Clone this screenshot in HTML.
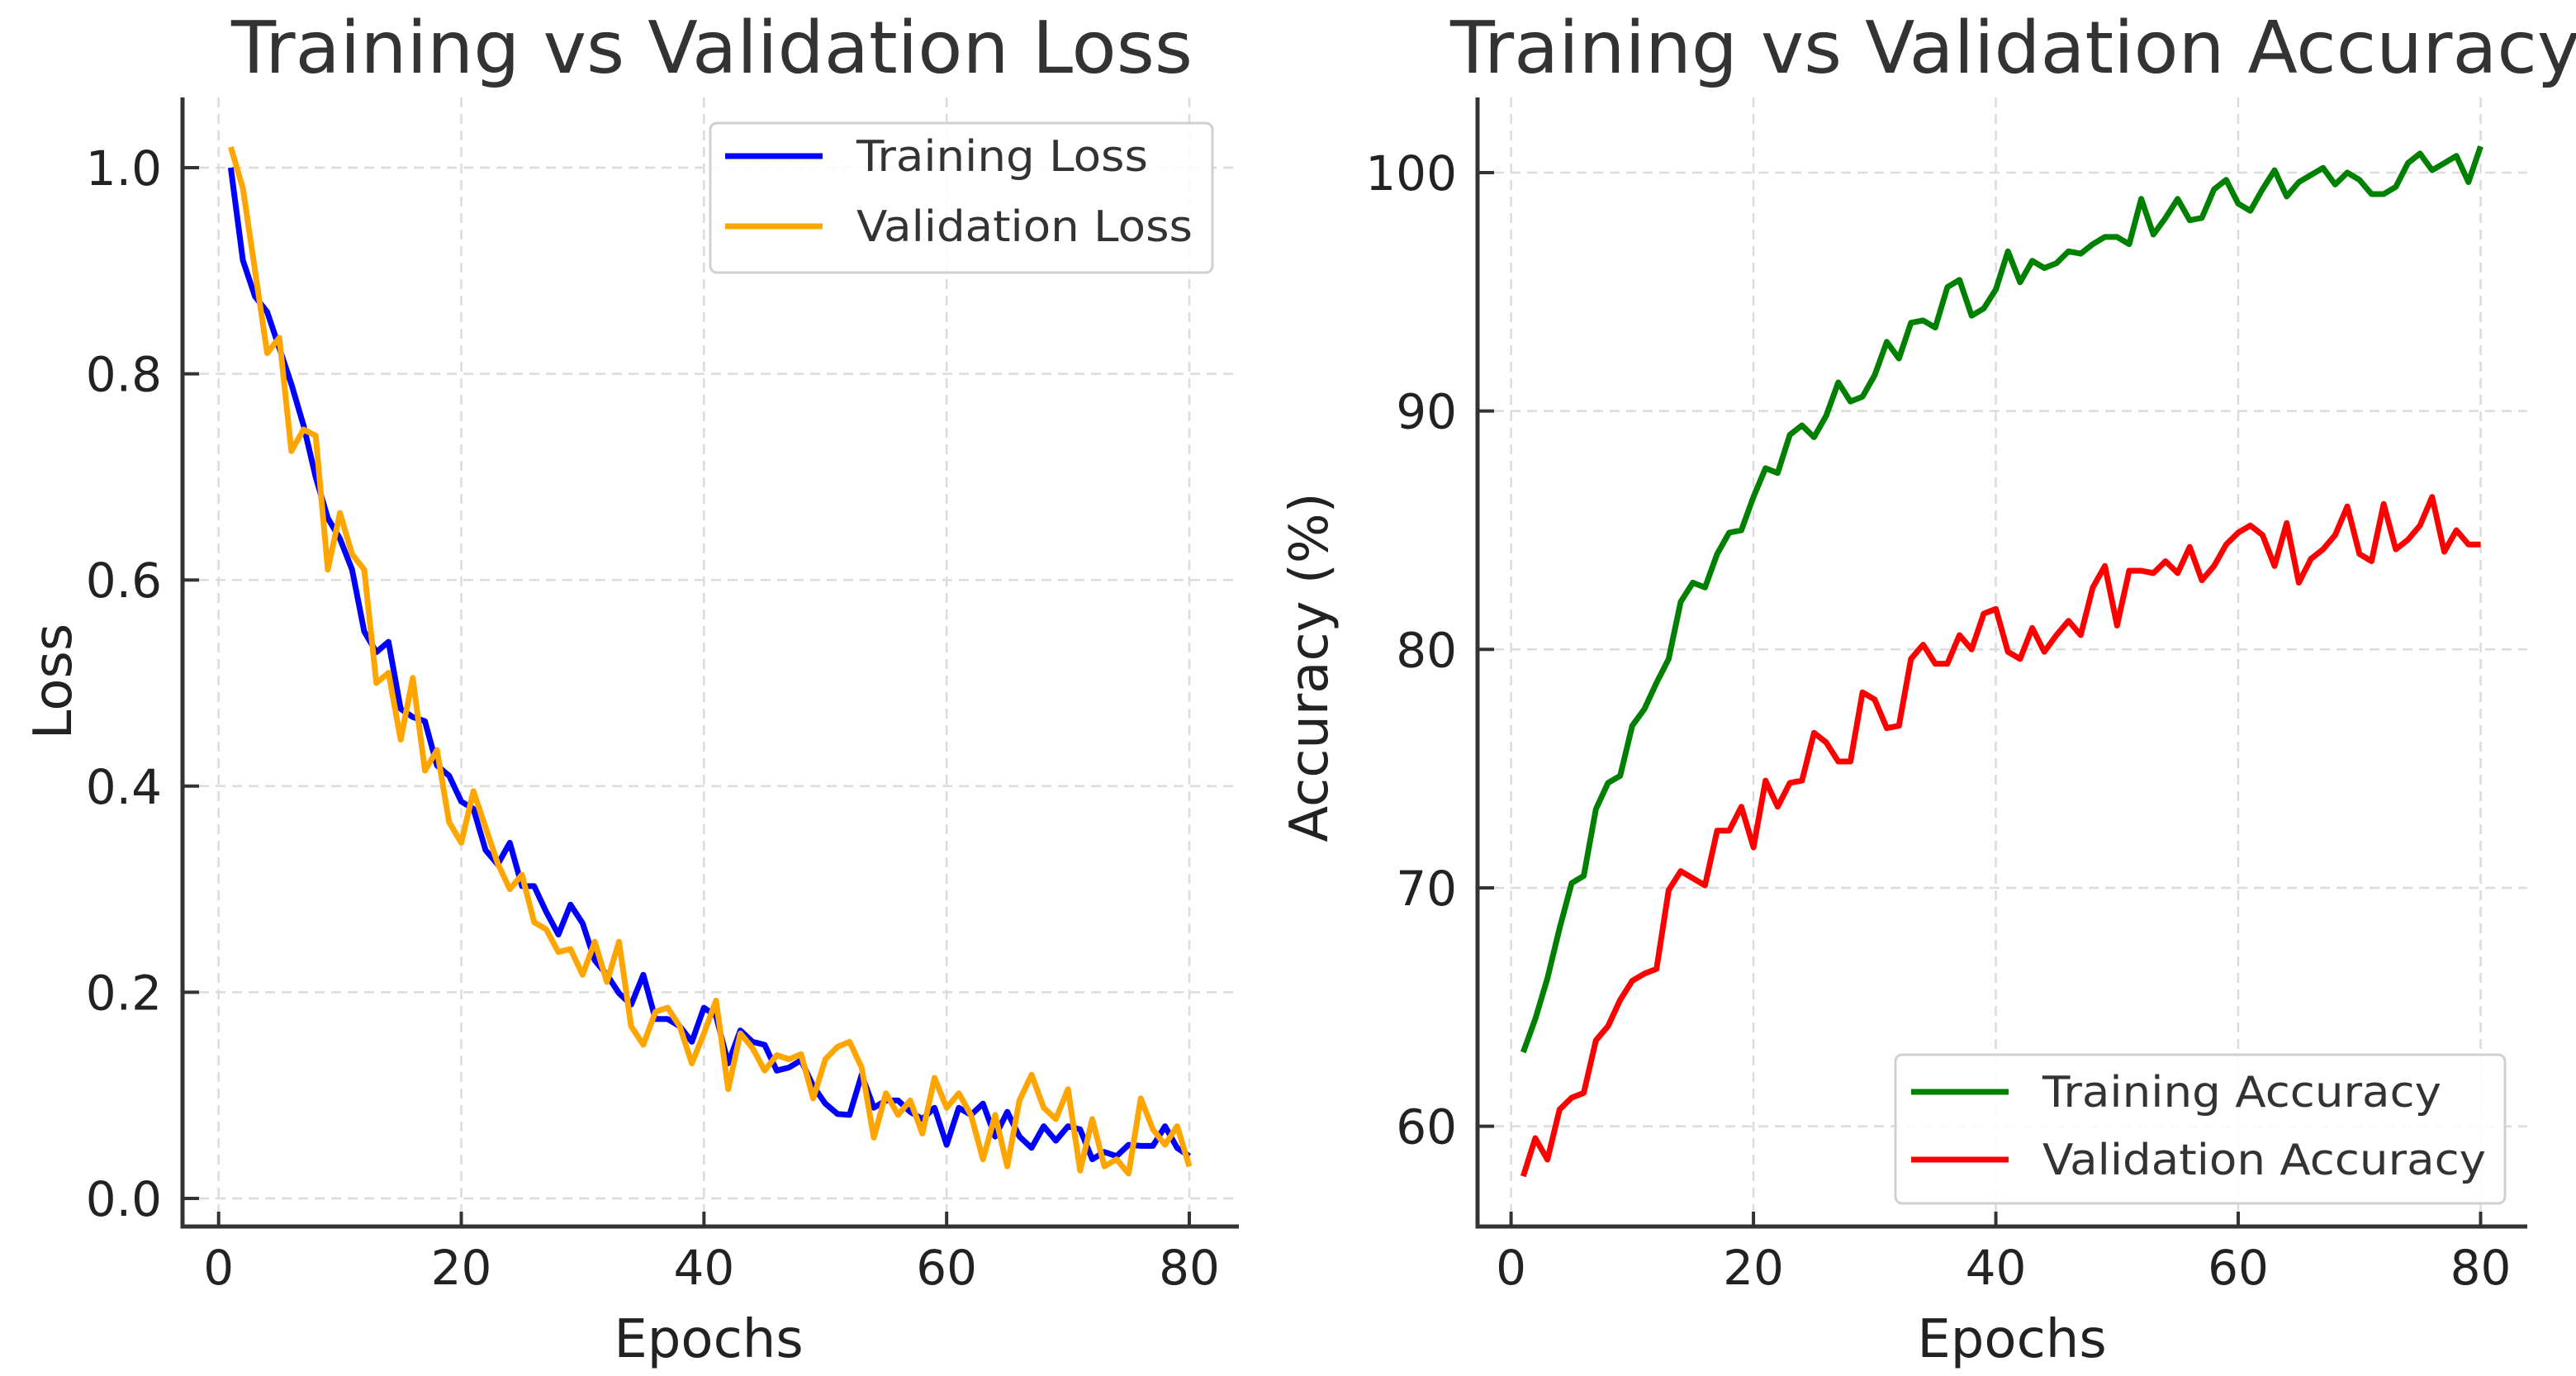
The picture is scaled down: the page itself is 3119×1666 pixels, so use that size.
<!DOCTYPE html>
<html><head><meta charset="utf-8"><style>
html,body{margin:0;padding:0;background:#fff;}
svg{display:block;font-family:"DejaVu Sans","Liberation Sans",sans-serif;}
</style></head><body>
<svg id="chart" width="3119" height="1666" viewBox="0 0 3119 1666"></svg>
<script>
const epochs = Array.from({length:80},(_,i)=>i+1);
const trainLoss = [1.0,0.91,0.875,0.86,0.825,0.79,0.75,0.70,0.66,0.64,0.61,0.55,0.53,0.54,0.475,0.467,0.463,0.42,0.41,0.385,0.378,0.338,0.324,0.345,0.303,0.303,0.278,0.256,0.285,0.267,0.231,0.217,0.199,0.188,0.217,0.174,0.174,0.167,0.152,0.185,0.177,0.131,0.163,0.152,0.149,0.124,0.127,0.134,0.109,0.092,0.082,0.081,0.12,0.088,0.095,0.095,0.084,0.077,0.088,0.052,0.088,0.081,0.092,0.06,0.084,0.06,0.049,0.07,0.056,0.07,0.067,0.038,0.045,0.041,0.052,0.051,0.051,0.07,0.049,0.041];
const valLoss = [1.02,0.98,0.9,0.82,0.835,0.725,0.746,0.74,0.61,0.665,0.625,0.61,0.5,0.51,0.445,0.505,0.415,0.435,0.365,0.345,0.395,0.36,0.325,0.3,0.314,0.268,0.261,0.239,0.242,0.217,0.249,0.21,0.249,0.167,0.149,0.181,0.185,0.167,0.131,0.16,0.192,0.106,0.16,0.146,0.124,0.139,0.135,0.14,0.097,0.135,0.147,0.152,0.127,0.059,0.102,0.081,0.095,0.063,0.117,0.088,0.102,0.081,0.038,0.081,0.031,0.095,0.12,0.088,0.077,0.106,0.027,0.077,0.031,0.038,0.024,0.097,0.067,0.052,0.07,0.031];
const trainAcc = [63.1,64.5,66.2,68.3,70.2,70.5,73.3,74.4,74.7,76.8,77.5,78.6,79.6,82.0,82.8,82.6,84.0,84.9,85.0,86.4,87.6,87.4,89.0,89.4,88.9,89.8,91.2,90.4,90.6,91.5,92.9,92.2,93.7,93.8,93.5,95.2,95.5,94.0,94.3,95.1,96.7,95.4,96.3,96.0,96.2,96.7,96.6,97.0,97.3,97.3,97.0,98.9,97.4,98.1,98.9,98.0,98.1,99.3,99.7,98.7,98.4,99.3,100.1,99.0,99.6,99.9,100.2,99.5,100.0,99.7,99.1,99.1,99.4,100.4,100.8,100.1,100.4,100.7,99.6,101.1];
const valAcc = [57.9,59.5,58.6,60.7,61.2,61.4,63.6,64.2,65.3,66.1,66.4,66.6,69.9,70.7,70.4,70.1,72.4,72.4,73.4,71.7,74.5,73.4,74.4,74.5,76.5,76.1,75.3,75.3,78.2,77.9,76.7,76.8,79.6,80.2,79.4,79.4,80.6,80.0,81.5,81.7,79.9,79.6,80.9,79.9,80.6,81.2,80.6,82.6,83.5,81.0,83.3,83.3,83.2,83.7,83.2,84.3,82.9,83.5,84.4,84.9,85.2,84.8,83.5,85.3,82.8,83.8,84.2,84.8,86.0,84.0,83.7,86.1,84.2,84.6,85.2,86.4,84.1,85.0,84.4,84.4];
const xTicks = [0,20,40,60,80];
const lossTicks = [0,0.2,0.4,0.6,0.8,1.0];
const accTicks = [60,70,80,90,100];

const NS='http://www.w3.org/2000/svg';
const svg=document.getElementById('chart');
function mk(tag,attrs,parent,text){const e=document.createElementNS(NS,tag);for(const k in attrs)e.setAttribute(k,attrs[k]);if(text!==undefined)e.textContent=text;(parent||svg).appendChild(e);return e;}

function panel(cfg){
  const g=mk('g',{});
  
  
  const X=v=>cfg.x0+(v-0)*(cfg.x80-cfg.x0)/80;
  const Y=v=>cfg.yA+(v-cfg.vA)*(cfg.yB-cfg.yA)/(cfg.vB-cfg.vA);
  // grid
  xTicks.forEach(t=>{const l=mk('line',{x1:X(t),x2:X(t),y1:cfg.top,y2:cfg.bottom,stroke:'#dcdcdc','stroke-width':2.5,'stroke-dasharray':'12,8'},g);
    
    });
  cfg.yTicks.forEach(t=>{const l=mk('line',{x1:cfg.left,x2:cfg.right,y1:Y(t),y2:Y(t),stroke:'#dcdcdc','stroke-width':2.5,'stroke-dasharray':'12,8'},g);
    
    });
  // series
  cfg.series.forEach(s=>{
    const d=epochs.map((e,i)=>(i?'L':'M')+X(e).toFixed(1)+','+Y(s.data[i]).toFixed(1)).join(' ');
    const p=mk('path',{d:d,fill:'none',stroke:s.color,'stroke-width':7,'stroke-linejoin':'round'},g);
    
    
  });
  // spines
  const sp=mk('path',{d:`M${cfg.left},${cfg.top} L${cfg.left},${cfg.bottom} L${cfg.right},${cfg.bottom}`,fill:'none',stroke:'#333','stroke-width':5},g);
  
  
  // ticks
  xTicks.forEach(t=>{
    mk('line',{x1:X(t),x2:X(t),y1:cfg.bottom,y2:cfg.bottom-18,stroke:'#333','stroke-width':4},g);
    const tx=mk('text',{x:X(t),y:1555,'text-anchor':'middle','font-size':58,fill:'#222'},g,String(t));
    
    
  });
  cfg.yTicks.forEach(t=>{
    mk('line',{x1:cfg.left,x2:cfg.left+20,y1:Y(t),y2:Y(t),stroke:'#333','stroke-width':4},g);
    const tx=mk('text',{x:cfg.left-25,y:Y(t)+21,'text-anchor':'end','font-size':58,fill:'#222'},g,cfg.fmt(t));
    
    
  });
  const xl=mk('text',{x:cfg.xlabelX,y:1643,'text-anchor':'middle','font-size':64,fill:'#222'},g,'Epochs');
  
  
  const yl=mk('text',{x:0,y:0,'text-anchor':'middle','font-size':64,fill:'#222',transform:`translate(${cfg.ylabelX},${cfg.ylabelY}) rotate(-90)`},g,cfg.ylabel);
  
  
  const ti=mk('text',{x:cfg.titleX,y:88,'font-size':87,fill:'#333',textLength:cfg.titleLen,lengthAdjust:'spacingAndGlyphs'},g,cfg.title);
  
  
  // legend
  const L=cfg.legend;
  const lg=mk('g',{},g);
  
  
  mk('rect',{x:L.x,y:L.y,width:L.w,height:L.h,rx:8,fill:'rgba(255,255,255,0.85)',stroke:'#d0d0d0','stroke-width':3},lg);
  cfg.series.forEach((s,i)=>{
    const ly=L.ly[i];
    const en=mk('g',{},lg);
    
    
    mk('line',{x1:L.lx1,x2:L.lx2,y1:ly,y2:ly,stroke:s.color,'stroke-width':7},en);
    mk('text',{x:L.tx,y:ly+18,'font-size':52,fill:'#333',textLength:L.tl[i],lengthAdjust:'spacingAndGlyphs'},en,s.label);
  });
}

panel({name:'loss-chart',x0:264.7,x80:1440,vA:0,yA:1451,vB:1,yB:203,left:221,right:1500,top:118,bottom:1485,
  yTicks:lossTicks,fmt:t=>t.toFixed(1),xlabelX:858,ylabelX:86,ylabelY:825,ylabel:'Loss',
  title:'Training vs Validation Loss',titleX:280,titleLen:1164,
  series:[{name:'training-loss-line',label:'Training Loss',color:'#0000ff',data:trainLoss},
          {name:'validation-loss-line',label:'Validation Loss',color:'#ffa500',data:valLoss}],
  legend:{x:860,y:149,w:608,h:181,lx1:878,lx2:996,ly:[189,274],tx:1037,tl:[353,407]}});

panel({name:'accuracy-chart',x0:1829.6,x80:3003.5,vA:100,yA:209,vB:60,yB:1363.6,left:1789,right:3060,top:118,bottom:1485,
  yTicks:accTicks,fmt:t=>String(t),xlabelX:2436,ylabelX:1607,ylabelY:808,ylabel:'Accuracy (%)',
  title:'Training vs Validation Accuracy',titleX:1756,titleLen:1368,
  series:[{name:'training-accuracy-line',label:'Training Accuracy',color:'#008000',data:trainAcc},
          {name:'validation-accuracy-line',label:'Validation Accuracy',color:'#ff0000',data:valAcc}],
  legend:{x:2295,y:1277,w:738,h:180,lx1:2314,lx2:2432,ly:[1322,1404],tx:2473,tl:[483,537]}});
</script>
</body></html>
